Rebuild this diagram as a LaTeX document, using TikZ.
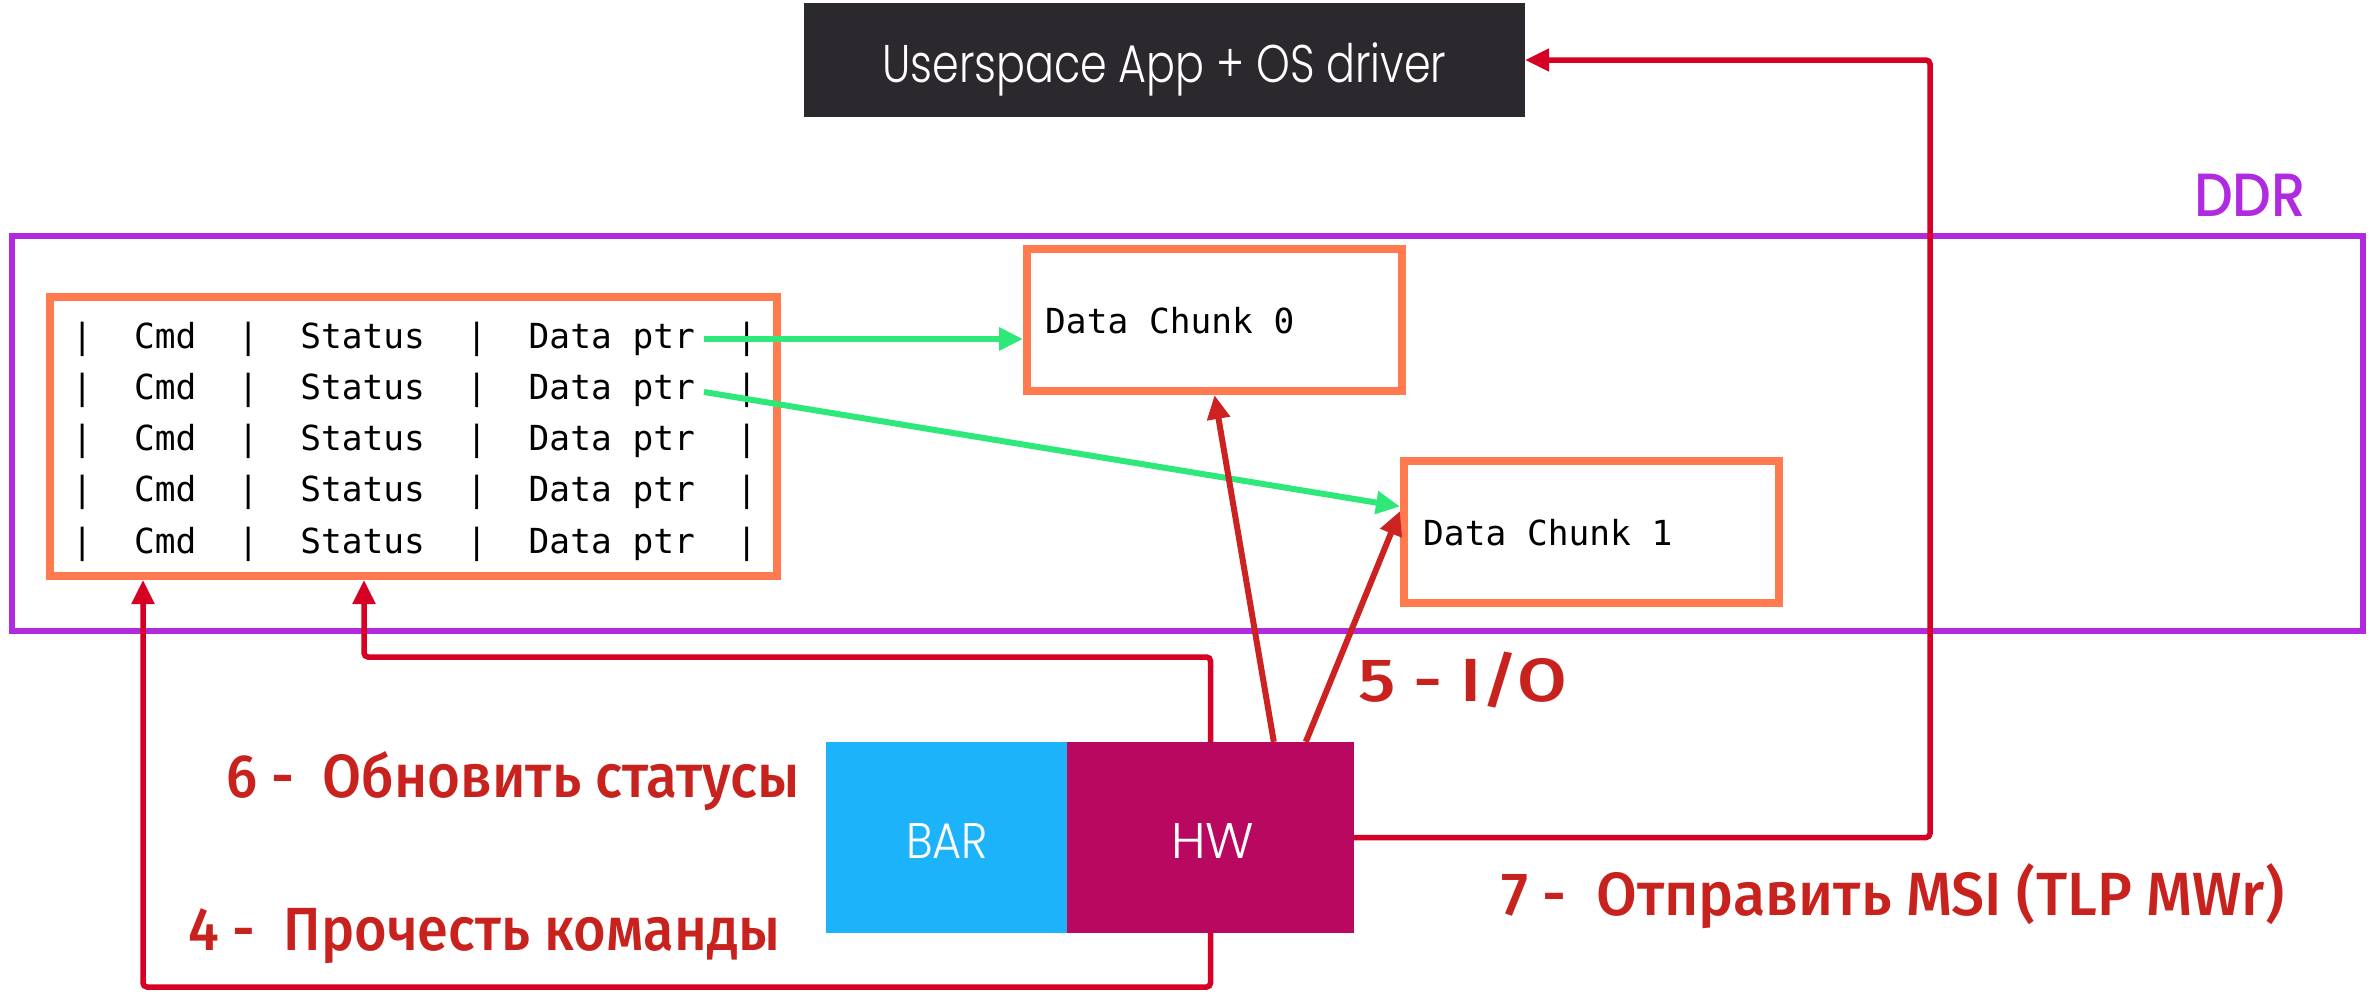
\documentclass[tikz,border=0pt]{standalone}
\usepackage{fontspec}
\usepackage{graphicx}
\usetikzlibrary{arrows.meta,calc}
\setmonofont{DejaVu Sans Mono}
\newfontfamily\redfont{Fira Sans Medium}
\newfontfamily\lightfont{Poppins Light}
\newfontfamily\ddrfont{Poppins Medium}
% scale a label horizontally to a given width, keeping its height
\newcommand\wfit[2]{\resizebox{#1}{\height}{#2}}
\newcommand\cmdrow{|~~Cmd~~|~~Status~~|~~Data~ptr~~|}

\definecolor{appbg}{HTML}{2B282E}
\definecolor{ddrc}{HTML}{B02AE0}
\definecolor{memc}{HTML}{FF7B4F}
\definecolor{ptrc}{HTML}{2EE87A}
\definecolor{connc}{HTML}{D50024}
\definecolor{ioc}{HTML}{CC2222}
\definecolor{lblc}{HTML}{C8221E}
\definecolor{barc}{HTML}{1DB3FA}
\definecolor{hwc}{HTML}{B8085F}

\begin{document}
\begin{tikzpicture}[x=1bp,y=-1bp,
  membox/.style={draw=memc, line width=8bp, fill=white, inner sep=0pt},
  monotext/.style={font=\ttfamily\fontsize{34.5bp}{40bp}\selectfont, text=black, inner sep=0pt, anchor=base west},
  redlabel/.style={font=\redfont\fontsize{61bp}{61bp}\selectfont, text=lblc, inner sep=0pt, anchor=base west},
  whitelabel/.style={font=\lightfont\fontsize{#1}{#1}\selectfont, text=white, inner sep=0pt, anchor=base west},
  tip/.style={-{Triangle[length=24bp,width=22bp]}},
  conn/.style={draw=connc, line width=5.5bp, rounded corners=4bp, tip},
  ioarrow/.style={draw=ioc, line width=6bp, tip},
  ptrarrow/.style={draw=ptrc, line width=6bp, tip},
]
\useasboundingbox (0,0) rectangle (2380,991);

% host side
\node[fill=appbg, inner sep=0pt, minimum width=721bp, minimum height=114bp] (app) at (1164.5,60) {};
\node[whitelabel=53bp] (apptext) at (882,82) {\wfit{564bp}{Userspace App + OS driver}};

% DDR region
\node[draw=ddrc, line width=6bp, inner sep=0pt, minimum width=2351bp, minimum height=395bp] (ddr) at (1187.5,433.5) {};
\node[font=\ddrfont\fontsize{61bp}{61bp}\selectfont, text=ddrc, inner sep=0pt, anchor=base west] (ddrtext) at (2194,216) {\wfit{112bp}{DDR}};

% command ring
\node[membox, minimum width=727bp, minimum height=279bp] (tbl) at (413.5,436.5) {};
\foreach \i in {0,...,4}{
  \node[monotext] (row\i) at (71.6,348+51.25*\i) {\cmdrow};
}
\coordinate (p1) at (704,339);
\coordinate (p2) at (704,392);

% data buffers
\node[membox, minimum width=375bp, minimum height=142bp] (dc0) at (1214.5,320) {};
\node[monotext] (dc0text) at (1045,333) {Data Chunk 0};
\node[membox, minimum width=375bp, minimum height=142bp] (dc1) at (1591.5,532) {};
\node[monotext] (dc1text) at (1423,545) {Data Chunk 1};

% device
\node[fill=barc, inner sep=0pt, minimum width=241bp, minimum height=191bp] (bar) at (946.5,837.5) {};
\node[fill=hwc, inner sep=0pt, minimum width=287bp, minimum height=191bp] (hw) at (1210.5,837.5) {};
\node[whitelabel=50bp] (bartext) at (906,858) {\wfit{82bp}{BAR}};
\node[whitelabel=50bp] (hwtext) at (1171,858) {\wfit{83bp}{HW}};

% pointers to data
\draw[ptrarrow] (p1) -- (p1 -| dc0.west);
\draw[ptrarrow] (p2) -- ($(dc1.north west)!0.33!(dc1.south west)$);

% step 5: I/O
\draw[ioarrow] ($(hw.north west)+(207,0)$) -- (dc0.south);
\draw[ioarrow] ($(hw.north west)+(239,0)$) -- ($(dc1.north west)!0.36!(dc1.south west)$);

% step 6: status update
\coordinate (st) at (364,657);
\draw[conn] (hw.north) |- (st) -- (st |- tbl.south);

% step 4: fetch commands
\coordinate (rd) at (143,987);
\draw[conn] (hw.south) |- (rd) -- (rd |- tbl.south);

% step 7: MSI
\coordinate (msi) at (1930,60);
\draw[conn] (hw.east) -| (msi) -- (app.east);

% step labels
\node[redlabel] (l6) at (226,797) {\wfit{574bp}{6 -~~Обновить статусы}};
\node[redlabel] (l4) at (188,950) {\wfit{592bp}{4 -~~Прочесть команды}};
\node[redlabel] (l5) at (1358,701) {\wfit{209bp}{5 - I/O}};
\node[redlabel] (l7) at (1501,915) {\wfit{783bp}{7 -~~Отправить MSI (TLP MWr)}};
\end{tikzpicture}
\end{document}
